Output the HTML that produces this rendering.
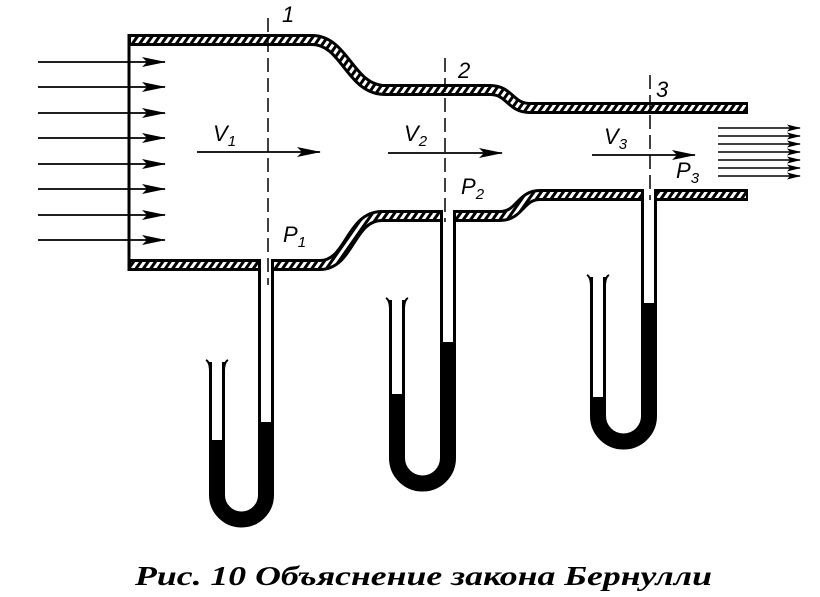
<!DOCTYPE html>
<html><head><meta charset="utf-8"><style>
html,body{margin:0;padding:0;background:#fff;}
svg{display:block}
.cap{font-family:"Liberation Serif","Times New Roman",serif;font-weight:bold;font-style:italic;font-size:27px;}
.lb{font-family:"Liberation Sans",Arial,sans-serif;font-style:italic;font-size:22px;}
</style></head><body>
<svg width="820" height="597" viewBox="0 0 820 597" xmlns="http://www.w3.org/2000/svg">
<defs>
<pattern id="h" width="6" height="6" patternUnits="userSpaceOnUse" patternTransform="rotate(35)">
<rect width="6" height="6" fill="#fff"/><rect width="3" height="6" fill="#000"/>
</pattern>
<marker id="a" markerWidth="24" markerHeight="10" refX="23" refY="5" orient="auto" markerUnits="userSpaceOnUse">
<path d="M0,0 L24,5 L0,10 L5,5 Z" fill="#000"/></marker>
<marker id="b" markerWidth="14" markerHeight="7" refX="13" refY="3.5" orient="auto" markerUnits="userSpaceOnUse">
<path d="M0,0 L14,3.5 L0,7 L3,3.5 Z" fill="#000"/></marker>
</defs>
<g fill="none" stroke-linejoin="round">
<path d="M128,40 H312 C345,40 350,90 385,90 H490 C510,90 510,108 530,108 H748" stroke="#000" stroke-width="12"/>
<path d="M131,40 H312 C345,40 350,90 385,90 H490 C510,90 510,108 530,108 H746" stroke="url(#h)" stroke-width="6"/>
<path d="M128,265 H320 C350,265 350,216 382,216 H500 C520,216 520,195 540,195 H748" stroke="#000" stroke-width="12"/>
<path d="M131,265 H320 C350,265 350,216 382,216 H500 C520,216 520,195 540,195 H746" stroke="url(#h)" stroke-width="6"/>
<line x1="129" y1="34" x2="129" y2="271" stroke="#000" stroke-width="3"/>
<path d="M217,362 V495 A24.5,24.5 0 0 0 266,495 V262" stroke="#000" stroke-width="16"/>
<path d="M217,355 V440 M266,255 V422" stroke="#fff" stroke-width="10"/>
<path d="M397,300 V458 A25.5,25.5 0 0 0 448,458 V212" stroke="#000" stroke-width="16"/>
<path d="M397,293 V394 M448,205 V342" stroke="#fff" stroke-width="10"/>
<path d="M598,277 V416 A25.5,25.5 0 0 0 649,416 V192" stroke="#000" stroke-width="16"/>
<path d="M598,270 V397 M649,185 V303" stroke="#fff" stroke-width="10"/>
<g stroke="#000" stroke-width="2">
<path d="M206,360 Q210,362 210,372 M228,360 Q224,362 224,372"/>
<path d="M386,298 Q390,300 390,310 M408,298 Q404,300 404,310"/>
<path d="M587,275 Q591,277 591,287 M609,275 Q605,277 605,287"/>
</g>
<g stroke="#000" stroke-width="1.5" stroke-dasharray="14,6">
<line x1="268" y1="18" x2="268" y2="285"/>
<line x1="445" y1="58" x2="445" y2="222"/>
<line x1="650" y1="75" x2="650" y2="200"/>
</g>
<g stroke="#000" stroke-width="1.8" marker-end="url(#a)">
<line x1="38" y1="62" x2="165" y2="62"/><line x1="38" y1="87" x2="165" y2="87"/>
<line x1="38" y1="113" x2="165" y2="113"/><line x1="38" y1="138" x2="165" y2="138"/>
<line x1="38" y1="164" x2="165" y2="164"/><line x1="38" y1="189" x2="165" y2="189"/>
<line x1="38" y1="215" x2="165" y2="215"/><line x1="38" y1="240" x2="165" y2="240"/>
<line x1="197" y1="152" x2="320" y2="152"/>
<line x1="388" y1="153" x2="502" y2="153"/>
<line x1="592" y1="155" x2="695" y2="155"/>
</g>
<g stroke="#000" stroke-width="1.5" marker-end="url(#b)">
<line x1="718" y1="128" x2="800" y2="128"/><line x1="718" y1="136" x2="800" y2="136"/>
<line x1="718" y1="144" x2="800" y2="144"/><line x1="718" y1="152" x2="800" y2="152"/>
<line x1="718" y1="160" x2="800" y2="160"/><line x1="718" y1="168" x2="800" y2="168"/>
<line x1="718" y1="176" x2="800" y2="176"/>
</g>
</g>
<g class="lb" fill="#000">
<text x="282" y="22">1</text><text x="458" y="78">2</text><text x="656" y="97">3</text>
<text x="213" y="141">V<tspan font-size="15" dy="5">1</tspan></text>
<text x="404" y="141">V<tspan font-size="15" dy="5">2</tspan></text>
<text x="604" y="144">V<tspan font-size="15" dy="5">3</tspan></text>
<text x="283" y="242">P<tspan font-size="15" dy="5">1</tspan></text>
<text x="461" y="194">P<tspan font-size="15" dy="5">2</tspan></text>
<text x="676" y="178">P<tspan font-size="15" dy="5">3</tspan></text>
</g>
<text class="cap" x="135" y="585" textLength="577" lengthAdjust="spacingAndGlyphs">Рис. 10 Объяснение закона Бернулли</text>
</svg>
</body></html>
